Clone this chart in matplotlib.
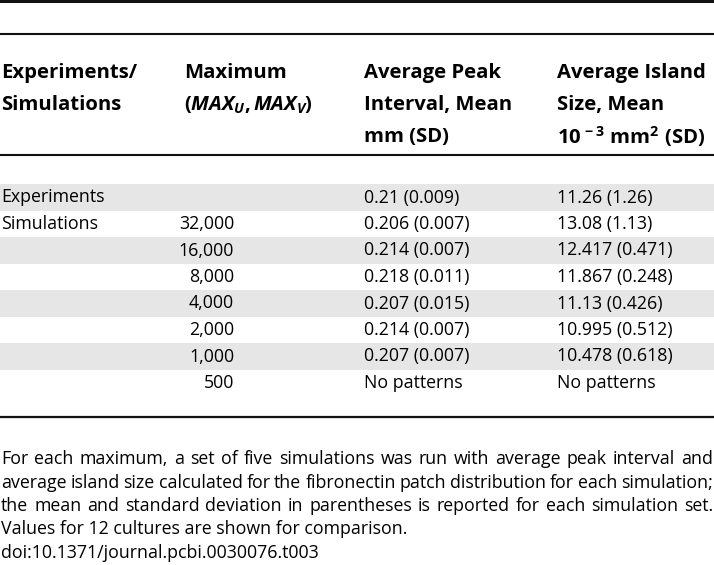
import matplotlib
matplotlib.use("Agg")
import matplotlib.pyplot as plt

# fonts
plt.rcParams['font.family'] = ['Open Sans', 'DejaVu Sans']
plt.rcParams['mathtext.fontset'] = 'custom'
plt.rcParams['mathtext.rm'] = 'Open Sans'
plt.rcParams['mathtext.it'] = 'Open Sans:italic'
plt.rcParams['mathtext.bf'] = 'Open Sans:bold'
plt.rcParams['mathtext.bfit'] = 'Open Sans:italic:bold'

# table data
headers = [
    ["Experiments/", "Simulations"],
    ["Maximum", r"$\mathbf{(}\mathbfit{MAX_U}\mathbf{,}\,\mathbfit{MAX_V}\mathbf{)}$"],
    ["Average Peak", "Interval, Mean", "mm (SD)"],
    ["Average Island", "Size, Mean", r"$\mathbf{10^{\,-3}\ mm^2\ (SD)}$"],
]
groups = ["Experiments", "Simulations", "", "", "", "", "", ""]
maxima = ["", "32,000", "16,000", "8,000", "4,000", "2,000", "1,000", "500"]
peak = ["0.21 (0.009)", "0.206 (0.007)", "0.214 (0.007)", "0.218 (0.011)",
        "0.207 (0.015)", "0.214 (0.007)", "0.207 (0.007)", "No patterns"]
island = ["11.26 (1.26)", "13.08 (1.13)", "12.417 (0.471)", "11.867 (0.248)",
          "11.13 (0.426)", "10.995 (0.512)", "10.478 (0.618)", "No patterns"]
shaded = [True, False, True, False, True, False, True, False]

footnote = [
    "For each maximum, a set of five simulations was run with average peak interval and",
    "average island size calculated for the fibronectin patch distribution for each simulation;",
    "the mean and standard deviation in parentheses is reported for each simulation set.",
    "Values for 12 cultures are shown for comparison.",
    "doi:10.1371/journal.pcbi.0030076.t003",
]

W, H = 714, 565
fig = plt.figure(figsize=(W / 100, H / 100), dpi=100)
ax = fig.add_axes([0, 0, 1, 1])
ax.set_xlim(0, W)
ax.set_ylim(H, 0)
ax.axis('off')

fs = 12.8       # body text
fs_head = 14.6  # bold header
col_x = [1, 184, 364, 557]
num_right = 234

# rules
ax.axhline(1, color='#111111', lw=2.2)
ax.axhline(34, color='#111111', lw=1.5)
ax.axhline(154.5, color='#111111', lw=1.5)
ax.axhline(417, color='#111111', lw=1.6)

# header
head_y0, head_dy = 73, 32
for x, lines in zip(col_x, headers):
    for k, h in enumerate(lines):
        ax.text(x, head_y0 + k * head_dy, h, fontsize=fs_head, fontweight='bold',
                va='center', ha='left', color='black')

# rows
row0, row_h = 197.5, 26.5
for i in range(len(groups)):
    y = row0 + i * row_h
    if shaded[i]:
        ax.axhspan(y - 13.3, y + 13.3, color='#e6e6e6', lw=0)
    ax.text(col_x[0], y, groups[i], fontsize=fs, va='center', ha='left')
    ax.text(num_right, y, maxima[i], fontsize=fs, va='center', ha='right')
    ax.text(col_x[2], y, peak[i], fontsize=fs, va='center', ha='left')
    ax.text(col_x[3], y, island[i], fontsize=fs, va='center', ha='left')

# footnote, justified except the last two lines
fig.canvas.draw()
renderer = fig.canvas.get_renderer()
inv = ax.transData.inverted()
foot_y0, foot_dy = 459, 23.5
for j, line in enumerate(footnote):
    y = foot_y0 + j * foot_dy
    if j >= 3:
        ax.text(1, y, line, fontsize=fs, va='center', ha='left')
        continue
    words = line.split(' ')
    widths = []
    for w in words:
        t = ax.text(0, y, w, fontsize=fs, va='center', ha='left')
        bb = t.get_window_extent(renderer)
        x0 = inv.transform((bb.x0, bb.y0))[0]
        x1 = inv.transform((bb.x1, bb.y0))[0]
        widths.append(x1 - x0)
        t.remove()
    gap = (W - 2 - sum(widths)) / (len(words) - 1)
    x = 1
    for w, wd in zip(words, widths):
        ax.text(x, y, w, fontsize=fs, va='center', ha='left')
        x += wd + gap

fig.savefig("out.png", dpi=100, facecolor='white')
